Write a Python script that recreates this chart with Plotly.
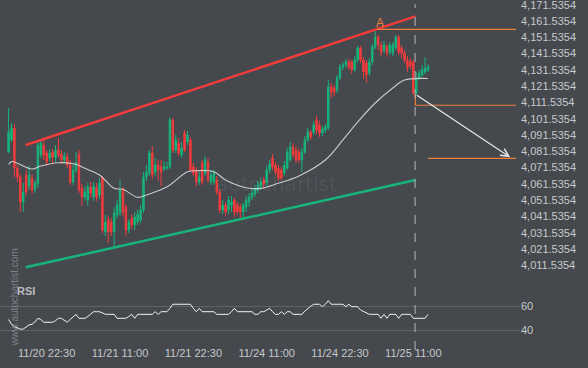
import plotly.graph_objects as go

# ---------------- data ----------------
tick_idx = [13, 38, 63, 88, 113, 138]
tick_labels = ["11/20 22:30", "11/21 11:00", "11/21 22:30", "11/24 11:00", "11/24 22:30", "11/25 11:00"]

price_tick_labels = ["4,011.5354", "4,021.5354", "4,031.5354", "4,041.5354", "4,051.5354",
                     "4,061.5354", "4,071.5354", "4,081.5354", "4,091.5354", "4,101.5354",
                     "4,111.5354", "4,121.5354", "4,131.5354", "4,141.5354", "4,151.5354",
                     "4,161.5354", "4,171.5354"]
rsi_tick_labels = ["40", "60"]

opens = [4081.1, 4088.5, 4095.8, 4071.3, 4065.8, 4050.4, 4067.0, 4060.2, 4065.2, 4057.8,
         4061.5, 4079.3, 4085.4, 4080.5, 4077.4, 4081.1, 4077.4, 4082.3, 4079.9, 4076.2,
         4078.0, 4073.1, 4062.7, 4070.1, 4079.9, 4059.0, 4053.5, 4051.6, 4059.6, 4053.5,
         4059.0, 4054.7, 4065.2, 4032.0, 4039.4, 4038.1, 4032.0, 4042.4, 4043.7, 4057.8,
         4047.3, 4033.2, 4040.6, 4036.3, 4038.1, 4039.4, 4045.5, 4065.8, 4068.2, 4080.5,
         4068.8, 4073.1, 4071.9, 4070.7, 4071.3, 4071.9, 4100.8, 4082.3, 4086.6, 4079.3,
         4092.8, 4087.3, 4088.5, 4071.9, 4070.1, 4062.7, 4074.4, 4068.2, 4075.0, 4062.7,
         4062.7, 4063.9, 4056.6, 4045.5, 4048.6, 4045.5, 4048.6, 4051.6, 4048.6, 4047.3,
         4044.3, 4047.3, 4050.4, 4053.5, 4055.3, 4057.8, 4060.2, 4063.9, 4062.1, 4070.1,
         4077.4, 4073.1, 4071.3, 4070.1, 4068.2, 4071.3, 4076.2, 4084.2, 4082.3, 4081.1,
         4076.2, 4081.1, 4088.5, 4093.4, 4093.4, 4100.8, 4097.7, 4092.8, 4094.6, 4095.8,
         4121.0, 4120.4, 4119.2, 4126.5, 4133.3, 4134.5, 4136.4, 4136.4, 4131.5, 4137.6,
         4145.0, 4137.6, 4135.8, 4129.6, 4136.4, 4145.6, 4151.7, 4146.8, 4143.7, 4145.6,
         4142.5, 4141.9, 4145.0, 4151.7, 4145.0, 4141.9, 4137.6, 4136.4, 4136.4, 4117.3,
         4126.5, 4128.4, 4130.2, 4131.5]
highs = [4108.1, 4098.9, 4098.3, 4073.1, 4067.6, 4062.1, 4070.1, 4072.5, 4067.6, 4063.9,
         4087.9, 4088.5, 4089.1, 4082.3, 4083.0, 4083.0, 4085.4, 4089.7, 4082.3, 4081.1,
         4080.5, 4076.2, 4073.1, 4081.1, 4082.3, 4061.5, 4060.2, 4062.1, 4062.7, 4062.7,
         4062.1, 4065.2, 4066.4, 4042.4, 4041.7, 4040.6, 4047.3, 4051.6, 4063.9, 4059.6,
         4049.2, 4040.0, 4042.9, 4044.3, 4045.5, 4048.6, 4068.8, 4073.1, 4082.3, 4084.8,
         4077.4, 4076.2, 4076.2, 4075.6, 4075.0, 4102.6, 4102.0, 4091.5, 4089.7, 4087.3,
         4094.6, 4094.0, 4090.3, 4074.4, 4071.9, 4068.8, 4076.2, 4078.7, 4077.4, 4070.1,
         4070.1, 4066.4, 4058.4, 4051.6, 4050.4, 4054.1, 4054.1, 4052.9, 4050.4, 4049.2,
         4049.8, 4054.1, 4055.9, 4058.4, 4060.9, 4063.3, 4065.2, 4065.8, 4072.5, 4076.2,
         4079.9, 4075.0, 4073.1, 4071.9, 4075.6, 4083.6, 4087.3, 4086.6, 4084.8, 4083.0,
         4083.6, 4090.9, 4095.8, 4094.6, 4100.1, 4103.2, 4100.1, 4097.1, 4098.3, 4125.3,
         4123.5, 4122.2, 4128.4, 4135.1, 4136.4, 4138.2, 4138.2, 4137.6, 4140.0, 4146.2,
         4146.2, 4139.4, 4137.6, 4138.8, 4147.4, 4156.6, 4152.9, 4148.6, 4149.3, 4147.4,
         4148.6, 4148.6, 4152.9, 4152.9, 4146.8, 4143.7, 4140.0, 4138.8, 4137.6, 4130.2,
         4131.5, 4134.5, 4139.4, 4135.1]
lows = [4080.5, 4087.3, 4065.8, 4062.7, 4044.3, 4044.3, 4054.1, 4057.8, 4055.3, 4055.9,
        4059.0, 4077.4, 4076.2, 4072.5, 4075.6, 4074.4, 4075.0, 4077.4, 4073.7, 4074.4,
        4071.3, 4060.9, 4060.9, 4068.2, 4055.9, 4048.0, 4051.0, 4048.0, 4052.9, 4051.0,
        4051.0, 4052.3, 4031.4, 4029.5, 4025.2, 4029.5, 4022.8, 4040.0, 4041.7, 4041.7,
        4029.5, 4031.4, 4033.8, 4033.2, 4036.3, 4037.5, 4043.7, 4063.3, 4066.4, 4064.5,
        4066.4, 4063.3, 4060.2, 4069.4, 4070.1, 4070.7, 4080.5, 4080.5, 4078.7, 4077.4,
        4081.1, 4085.4, 4068.8, 4066.4, 4060.2, 4060.9, 4060.9, 4066.4, 4062.1, 4060.9,
        4060.9, 4054.7, 4043.7, 4042.9, 4041.7, 4042.9, 4044.3, 4041.2, 4042.4, 4040.0,
        4040.6, 4044.3, 4047.3, 4051.6, 4053.5, 4055.9, 4057.8, 4059.0, 4060.2, 4068.2,
        4070.1, 4067.0, 4063.3, 4063.9, 4066.4, 4070.1, 4075.0, 4077.4, 4074.4, 4074.4,
        4068.8, 4079.9, 4087.3, 4088.5, 4091.5, 4092.2, 4090.3, 4090.9, 4092.8, 4094.6,
        4114.3, 4115.5, 4117.3, 4125.3, 4131.5, 4132.7, 4131.5, 4129.0, 4130.2, 4135.8,
        4135.8, 4125.9, 4123.5, 4127.8, 4134.5, 4144.3, 4143.7, 4140.0, 4141.9, 4139.4,
        4140.7, 4140.0, 4143.7, 4140.7, 4138.8, 4135.8, 4130.2, 4132.1, 4116.1, 4116.1,
        4125.3, 4127.2, 4129.0, 4130.2]
closes = [4093.4, 4095.8, 4071.3, 4065.8, 4050.4, 4056.6, 4056.6, 4067.0, 4057.8, 4062.1,
          4085.4, 4086.6, 4079.3, 4075.0, 4080.5, 4078.0, 4082.3, 4079.3, 4076.2, 4078.7,
          4073.1, 4062.7, 4070.1, 4074.4, 4057.8, 4053.5, 4056.6, 4059.6, 4055.9, 4060.2,
          4053.5, 4062.1, 4033.2, 4038.1, 4032.0, 4032.0, 4043.7, 4048.6, 4057.8, 4044.3,
          4033.2, 4038.1, 4036.3, 4041.2, 4042.9, 4045.5, 4065.8, 4068.8, 4080.5, 4067.0,
          4073.1, 4070.1, 4068.8, 4071.9, 4071.9, 4100.8, 4082.3, 4088.5, 4080.5, 4083.6,
          4082.3, 4091.5, 4070.1, 4068.2, 4062.7, 4065.8, 4062.7, 4076.2, 4063.9, 4067.0,
          4068.2, 4056.6, 4045.5, 4048.6, 4044.3, 4051.6, 4050.4, 4044.3, 4044.3, 4044.3,
          4048.6, 4051.6, 4053.5, 4055.9, 4058.4, 4060.9, 4062.7, 4061.5, 4070.1, 4073.7,
          4071.9, 4068.8, 4065.2, 4065.2, 4073.1, 4081.1, 4084.2, 4079.3, 4076.2, 4076.2,
          4081.1, 4088.5, 4093.4, 4090.3, 4097.7, 4094.6, 4092.8, 4095.2, 4096.5, 4121.0,
          4117.9, 4117.9, 4126.5, 4133.3, 4134.5, 4136.4, 4133.3, 4131.5, 4137.6, 4145.0,
          4137.6, 4130.2, 4128.4, 4136.4, 4145.6, 4151.7, 4146.8, 4142.5, 4146.8, 4141.9,
          4146.8, 4146.8, 4151.7, 4142.5, 4141.9, 4137.6, 4133.3, 4133.9, 4117.3, 4126.5,
          4129.6, 4131.5, 4132.7, 4133.3]

ma_idx = [0, 1, 3, 8, 11, 17, 23, 26, 31, 36, 39, 44, 47, 53, 55, 61, 64, 70, 74, 81,
          86, 92, 99, 108, 114, 119, 125, 131, 135, 143]
ma_vals = [4073.4, 4075.2, 4074.2, 4070.7, 4072.5, 4074.5, 4073.6, 4071.1, 4067.0, 4058.8,
           4058.2, 4053.3, 4054.7, 4058.8, 4060.9, 4069.0, 4069.6, 4069.0, 4063.9, 4059.2,
           4058.8, 4061.9, 4066.4, 4076.2, 4088.5, 4099.5, 4111.2, 4120.4, 4125.3, 4126.2]

rsi = [49, 45, 43, 42, 41, 41, 43, 44.5, 45, 47, 50, 49, 46.7, 46.7, 46.7, 46.7, 48, 50, 50, 48,
       46.7, 49, 51, 53.3, 50, 50, 50, 51.5, 53.3, 55.5, 55.5, 55.5, 54.5, 53.3, 53.3, 53.3, 53.3,
       50, 50, 50, 50, 51.5, 53.3, 50, 53.3, 53.3, 53.3, 53.3, 53.3, 53.3, 55.5, 53.3, 55.5, 55.5,
       55.5, 58.3, 61.7, 61.7, 61.7, 61.7, 61.7, 61.7, 61.7, 58.3, 55.5, 58.3, 55.5, 55.5, 55.5,
       55.5, 55.5, 53.3, 53.3, 53.3, 53.3, 53.3, 55.5, 58.3, 55.5, 55.5, 55.5, 55.5, 55.5, 55.5,
       53.3, 53.3, 55.5, 55.5, 56.9, 58.3, 55.5, 53.3, 53.3, 55.5, 53.3, 55.5, 55.5, 53.3, 53.3,
       53.3, 53.3, 56, 58.3, 60, 61.7, 61.7, 61.7, 59.7, 61.7, 64.7, 61.7, 61.7, 61.7, 61.7, 61.7,
       59.7, 61.7, 59.7, 59.7, 59.7, 56.9, 55.5, 54.2, 53.3, 53.3, 53.3, 53.3, 50, 53.3, 50, 53.3,
       53.3, 53.3, 50, 53.3, 53.3, 53.3, 53.3, 50, 50, 50, 50, 50, 53.3]

# pattern / forecast levels (candle index, price)
resistance_idx = [5.84, 138.7]
resistance_px = [4085.4, 4164.4]
support_idx = [5.84, 138.7]
support_px = [4010.3, 4063.9]
peak_level_idx = [125.6, 173.0]
peak_level_px = [4156.4, 4156.4]
break_level_idx = [138.7, 173.0]
break_level_px = [4109.8, 4109.8]
break_link_idx = [138.7, 138.7]
break_link_px = [4116.5, 4109.8]
target_idx = [143.0, 173.0]
target_px = [4077.2, 4077.2]
arrow_from = (138.7, 4116.5)
arrow_to = (171.0, 4077.9)
label_A = (126.6, 4160.3)
now_idx = 138.6

# ---------------- styling ----------------
BG = "#45484d"
TXT = "#c5c8cc"
GREEN = "#17b47c"
RED = "#f23c3c"
ORANGE = "#f0803f"
FONT = "Liberation Sans, Arial, sans-serif"

idx = list(range(len(opens)))
price_ticks = [float(s.replace(",", "")) for s in price_tick_labels]
rsi_ticks = [float(s) for s in rsi_tick_labels]

fig = go.Figure()

fig.add_trace(go.Scatter(x=resistance_idx, y=resistance_px, mode="lines",
                         line=dict(color=RED, width=2.5), xaxis="x", yaxis="y"))
fig.add_trace(go.Scatter(x=support_idx, y=support_px, mode="lines",
                         line=dict(color=GREEN, width=2.5), xaxis="x", yaxis="y"))

fig.add_trace(go.Candlestick(
    x=idx, open=opens, high=highs, low=lows, close=closes,
    increasing=dict(line=dict(color=GREEN, width=1), fillcolor=GREEN),
    decreasing=dict(line=dict(color=RED, width=1), fillcolor=RED),
    whiskerwidth=0, xaxis="x", yaxis="y"))

fig.add_trace(go.Scatter(x=ma_idx, y=ma_vals, mode="lines",
                         line=dict(color="rgba(225,225,225,0.85)", width=1.1, shape="spline"),
                         xaxis="x", yaxis="y"))

for xs, ys in [(peak_level_idx, peak_level_px), (break_level_idx, break_level_px),
               (break_link_idx, break_link_px), (target_idx, target_px)]:
    fig.add_trace(go.Scatter(x=xs, y=ys, mode="lines", line=dict(color=ORANGE, width=1.2),
                             xaxis="x", yaxis="y"))

fig.add_trace(go.Scatter(x=idx, y=rsi, mode="lines", line=dict(color="#f2f2f2", width=1),
                         xaxis="x", yaxis="y2"))

fig.add_shape(type="line", xref="x", yref="paper", x0=now_idx, x1=now_idx, y0=-0.0145, y1=0.988,
              line=dict(color="#b5b8bc", width=1, dash="dash"))

fig.add_annotation(x=arrow_to[0], y=arrow_to[1], ax=arrow_from[0], ay=arrow_from[1],
                   xref="x", yref="y", axref="x", ayref="y", showarrow=True, text="",
                   arrowhead=5, arrowsize=1.3, arrowwidth=1.2, arrowcolor="#e8e8e8")
fig.add_annotation(x=label_A[0], y=label_A[1], xref="x", yref="y", text="A", showarrow=False,
                   font=dict(color=ORANGE, size=12, family=FONT))
fig.add_annotation(x=91.5, y=4061.4, xref="x", yref="y", text="autochartist", showarrow=False,
                   font=dict(color="rgba(255,255,255,0.07)", size=20, family="DejaVu Sans"))
fig.add_annotation(x=15 / 520, y=(345 - 291) / 345, xref="paper", yref="paper", text="<b>RSI</b>",
                   showarrow=False, xanchor="left", yanchor="middle",
                   font=dict(color="#b9bcc0", size=11, family=FONT))
fig.add_annotation(x=13.5 / 520, y=(345 - 298) / 345, xref="paper", yref="paper",
                   text="www.autochartist.com", textangle=-90, showarrow=False,
                   xanchor="center", yanchor="middle",
                   font=dict(color="rgba(200,200,200,0.45)", size=10, family=FONT))

fig.update_layout(
    width=588, height=368, margin=dict(l=0, r=68, t=0, b=23, autoexpand=False),
    paper_bgcolor=BG, plot_bgcolor=BG, showlegend=False, hovermode=False,
    font=dict(family=FONT, color=TXT, size=11),
    xaxis=dict(range=[-2.922, 174.37], anchor="y2", tickmode="array", tickvals=tick_idx,
               ticktext=tick_labels, showgrid=False, zeroline=False, showline=False,
               ticks="", rangeslider=dict(visible=False), tickfont=dict(size=11, color=TXT),
               ticklabeloverflow="allow"),
    yaxis=dict(domain=[0.1884, 1], range=[4002.53, 4174.42], side="right", anchor="x",
               tickmode="array", tickvals=price_ticks, ticktext=price_tick_labels,
               showgrid=False, zeroline=False, showline=False, ticks="",
               tickfont=dict(size=11, color=TXT), ticklabeloverflow="allow"),
    yaxis2=dict(domain=[0, 0.1826], range=[27.75, 80.25], side="right", anchor="x",
                tickmode="array", tickvals=rsi_ticks, ticktext=rsi_tick_labels,
                showgrid=True, gridcolor="#5e6166", gridwidth=1, zeroline=False,
                showline=False, ticks="", tickfont=dict(size=11, color=TXT),
                ticklabeloverflow="allow"),
)

fig.write_html("out.html", config={"displayModeBar": False},
               post_script="document.body.style.margin='0';document.body.style.overflow='hidden';")
